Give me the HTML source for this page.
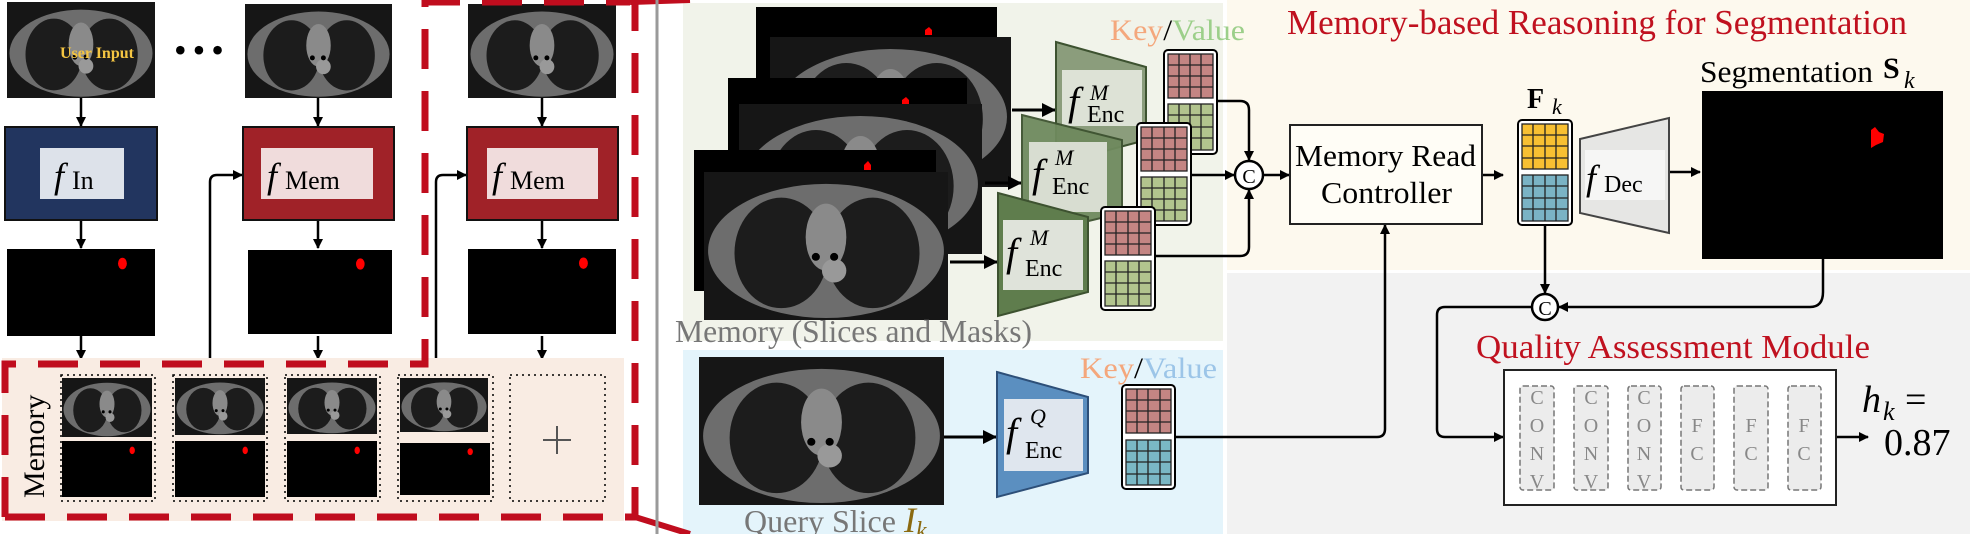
<!DOCTYPE html>
<html><head><meta charset="utf-8"><style>
html,body{margin:0;padding:0;background:#fff}
svg{display:block}
text{font-family:"Liberation Serif",serif}
</style></head><body>
<svg width="1970" height="534" viewBox="0 0 1970 534" xmlns="http://www.w3.org/2000/svg">
<defs>
<symbol id="ct" viewBox="0 0 240 150" preserveAspectRatio="none">
<rect width="240" height="150" fill="#161616"/>
<ellipse cx="120" cy="80" rx="116" ry="68" fill="#6d6d6d"/>
<ellipse cx="76" cy="82" rx="46" ry="56" fill="#1c1c1c"/>
<ellipse cx="166" cy="82" rx="46" ry="56" fill="#1c1c1c"/>
<ellipse cx="120" cy="66" rx="20" ry="34" fill="#8a8a8a"/>
<ellipse cx="128" cy="100" rx="12" ry="12" fill="#999"/>
<circle cx="110" cy="86" r="4" fill="#000"/><circle cx="128" cy="86" r="4" fill="#000"/>
</symbol>
<symbol id="mask" viewBox="0 0 100 60" preserveAspectRatio="none">
<rect width="100" height="60" fill="#000"/>
<ellipse cx="78" cy="10" rx="3" ry="4" fill="#f00"/>
</symbol>
<marker id="ah" markerWidth="10" markerHeight="10" refX="9" refY="5" orient="auto" markerUnits="userSpaceOnUse"><path d="M0,0L10,5L0,10z" fill="#000"/></marker>
<marker id="ahb" markerWidth="14" markerHeight="14" refX="13" refY="7" orient="auto" markerUnits="userSpaceOnUse"><path d="M0,0L14,7L0,14z" fill="#000"/></marker>
</defs>

<rect x="683" y="3" width="540" height="338" fill="#f1f3ea"/>
<rect x="683" y="350" width="540" height="184" fill="#e4f4fb"/>
<rect x="1227" y="0" width="743" height="270" fill="#fdf9ee"/>
<rect x="1227" y="273" width="743" height="261" fill="#f2f2f2"/>

<use href="#ct" x="7" y="2" width="148" height="96"/>
<text x="60" y="58" font-size="16" font-weight="bold" fill="#f4c542">User Input</text>
<text x="174" y="62" font-size="36" fill="#000" letter-spacing="6">•••</text>
<use href="#ct" x="245" y="4" width="147" height="94"/>
<use href="#ct" x="468" y="4" width="148" height="94"/>

<g stroke="#000" stroke-width="2.5" fill="none" marker-end="url(#ah)">
<path d="M81 98V126"/><path d="M318 98V126"/><path d="M542 98V126"/>
<path d="M81 220V248"/><path d="M318 220V248"/><path d="M542 220V248"/>
<path d="M81 336V359"/><path d="M318 336V359"/><path d="M542 336V359"/>
<path d="M210 360V182Q210 175 217 175H242"/>
<path d="M436 360V182Q436 175 443 175H466"/>
</g>

<rect x="5" y="127" width="152" height="93" fill="#22355f" stroke="#111" stroke-width="2"/>
<rect x="40" y="148" width="84" height="51" fill="#dde2ea"/>
<text x="54" y="188" font-size="36" font-style="italic">f</text><text x="72" y="189" font-size="26">In</text>
<rect x="243" y="127" width="151" height="93" fill="#a02228" stroke="#111" stroke-width="2"/>
<rect x="261" y="148" width="112" height="51" fill="#f0dcdc"/>
<text x="267" y="188" font-size="36" font-style="italic">f</text><text x="285" y="189" font-size="26">Mem</text>
<rect x="467" y="127" width="151" height="93" fill="#a02228" stroke="#111" stroke-width="2"/>
<rect x="487" y="148" width="111" height="51" fill="#f0dcdc"/>
<text x="492" y="188" font-size="36" font-style="italic">f</text><text x="510" y="189" font-size="26">Mem</text>

<use href="#mask" x="7" y="249" width="148" height="87"/>
<use href="#mask" x="248" y="250" width="144" height="84"/>
<use href="#mask" x="468" y="249" width="148" height="85"/>

<rect x="2" y="358" width="622" height="163" fill="#f9ece3"/>
<text transform="translate(44,498) rotate(-90)" font-size="30">Memory</text>
<g stroke="#000" stroke-width="1.5" stroke-dasharray="2 4" fill="none">
<rect x="61" y="375" width="94" height="126"/><rect x="173" y="375" width="94" height="126"/>
<rect x="285" y="375" width="95" height="126"/><rect x="398" y="375" width="95" height="126"/>
<rect x="510" y="375" width="95" height="126"/>
</g>
<use href="#ct" x="62" y="378" width="90" height="59"/><use href="#mask" x="62" y="441" width="90" height="56"/>
<use href="#ct" x="175" y="378" width="90" height="57"/><use href="#mask" x="175" y="441" width="90" height="56"/>
<use href="#ct" x="287" y="378" width="90" height="56"/><use href="#mask" x="287" y="441" width="90" height="56"/>
<use href="#ct" x="400" y="378" width="88" height="54"/><use href="#mask" x="400" y="443" width="90" height="52"/>
<path d="M557 426V454M543 440H571" stroke="#555" stroke-width="2"/>

<g stroke="#c00d1e" stroke-width="7" fill="none" stroke-dasharray="40 22">
<path d="M5 517V364H425V2H630"/>
<path d="M5 517H635V2"/>
</g>
<path d="M630 2L690 0M635 517L690 534" stroke="#c00d1e" stroke-width="6"/>
<path d="M657 0V534" stroke="#9a9a9a" stroke-width="3"/>

<rect x="756" y="7" width="241" height="120" fill="#000"/>
<use href="#ct" x="770" y="37" width="241" height="150"/>
<rect x="728" y="78" width="239" height="120" fill="#000"/>
<use href="#ct" x="739" y="104" width="243" height="150"/>
<rect x="694" y="150" width="242" height="141" fill="#000"/>
<use href="#ct" x="704" y="172" width="244" height="148"/>
<path d="M925 30l4 -3 3 3v5h-7zM902 100l4 -3 3 3v4h-7zM864 165l4 -4 3 4v5h-7z" fill="#f00"/>
<text x="675" y="342" font-size="32" fill="#777" textLength="357" lengthAdjust="spacingAndGlyphs">Memory (Slices and Masks)</text>

<g stroke="#000" stroke-width="3" fill="none" marker-end="url(#ahb)">
<path d="M1012 110H1055"/><path d="M985 183H1021"/><path d="M950 262H997"/>
<path d="M944 437H996"/>
</g>
<path d="M1056 42L1146 67V140L1056 164Z" fill="#8b9d7c" stroke="#3d5230" stroke-width="2"/>
<rect x="1062" y="70" width="80" height="56" fill="#dde2d6"/>
<text x="1068" y="115" font-size="40" font-style="italic">f</text><text x="1090" y="100" font-size="22" font-style="italic">M</text><text x="1087" y="122" font-size="24">Enc</text>
<path d="M1022 115L1122 140V213L1022 237Z" fill="#6f8a5e" stroke="#3d5230" stroke-width="2" opacity="0.95"/>
<rect x="1029" y="142" width="78" height="70" fill="#d8ddd1"/>
<text x="1032" y="187" font-size="40" font-style="italic">f</text><text x="1055" y="165" font-size="22" font-style="italic">M</text><text x="1052" y="194" font-size="24">Enc</text>
<path d="M998 193L1088 217V292L998 316Z" fill="#5f7d4d" stroke="#3d5230" stroke-width="2"/>
<rect x="1003" y="220" width="80" height="70" fill="#dfe3da"/>
<text x="1006" y="266" font-size="40" font-style="italic">f</text><text x="1030" y="245" font-size="22" font-style="italic">M</text><text x="1025" y="276" font-size="24">Enc</text>
<text x="1110" y="40" font-size="30" textLength="135" lengthAdjust="spacingAndGlyphs"><tspan fill="#f4a77c">Key</tspan><tspan fill="#000">/</tspan><tspan fill="#9ccf8a">Value</tspan></text>

<rect x="1164" y="50" width="53" height="104" rx="4" fill="#fff" stroke="#000" stroke-width="2"/>
<rect x="1168" y="54" width="45" height="44" fill="#c48583"/>
<rect x="1168" y="104" width="45" height="46" fill="#b2c48e"/>
<g stroke="#222" stroke-width="1.3" fill="none">
<path d="M1179 54V98M1190 54V98M1201 54V98M1168 65H1213M1168 76H1213M1168 87H1213"/>
<path d="M1179 104V150M1190 104V150M1201 104V150M1168 115H1213M1168 127H1213M1168 138H1213"/>
<rect x="1168" y="54" width="45" height="44"/><rect x="1168" y="104" width="45" height="46"/>
</g>
<rect x="1137" y="123" width="54" height="102" rx="4" fill="#fff" stroke="#000" stroke-width="2"/>
<rect x="1141" y="127" width="46" height="44" fill="#c48583"/><rect x="1141" y="177" width="46" height="44" fill="#b2c48e"/>
<g stroke="#222" stroke-width="1.3" fill="none">
<path d="M1152 127V171M1164 127V171M1175 127V171M1141 138H1187M1141 149H1187M1141 160H1187"/>
<path d="M1152 177V221M1164 177V221M1175 177V221M1141 188H1187M1141 199H1187M1141 210H1187"/>
<rect x="1141" y="127" width="46" height="44"/><rect x="1141" y="177" width="46" height="44"/>
</g>
<rect x="1101" y="207" width="54" height="103" rx="4" fill="#fff" stroke="#000" stroke-width="2"/>
<rect x="1105" y="211" width="46" height="44" fill="#c48583"/><rect x="1105" y="261" width="46" height="45" fill="#b2c48e"/>
<g stroke="#222" stroke-width="1.3" fill="none">
<path d="M1116 211V255M1128 211V255M1139 211V255M1105 222H1151M1105 233H1151M1105 244H1151"/>
<path d="M1116 261V306M1128 261V306M1139 261V306M1105 272H1151M1105 283H1151M1105 294H1151"/>
<rect x="1105" y="211" width="46" height="44"/><rect x="1105" y="261" width="46" height="45"/>
</g>
<g stroke="#000" stroke-width="2.5" fill="none" marker-end="url(#ah)">
<path d="M1218 101H1240Q1249 101 1249 110V160"/>
<path d="M1191 175H1234"/>
<path d="M1155 256H1240Q1249 256 1249 247V190"/>
<path d="M1263 175H1289"/>
<path d="M1482 175H1503"/>
<path d="M1669 172H1700"/>
<path d="M1545 225V293"/>
<path d="M1823 259V292Q1823 307 1810 307H1559"/>
<path d="M1532 307H1445Q1437 307 1437 315V429Q1437 437 1445 437H1503"/>
<path d="M1175 437H1377Q1385 437 1385 429V225"/>
<path d="M1836 437H1868"/>
</g>
<circle cx="1249" cy="175" r="14" fill="#fff" stroke="#000" stroke-width="2.5"/>
<text x="1249" y="183" font-size="20" text-anchor="middle">C</text>

<use href="#ct" x="699" y="357" width="245" height="148"/>
<text x="744" y="532" font-size="32" fill="#777">Query Slice <tspan font-style="italic" fill="#8b6a10" font-size="36">I</tspan><tspan font-style="italic" fill="#8b6a10" font-size="24" dy="6">k</tspan></text>
<path d="M997 372L1088 397V473L997 497Z" fill="#5b8fc0" stroke="#2d4f78" stroke-width="2"/>
<rect x="1004" y="399" width="79" height="72" fill="#dfe6ee"/>
<text x="1006" y="446" font-size="40" font-style="italic">f</text><text x="1030" y="424" font-size="22" font-style="italic">Q</text><text x="1025" y="458" font-size="24">Enc</text>
<text x="1080" y="378" font-size="30" textLength="137" lengthAdjust="spacingAndGlyphs"><tspan fill="#f4a77c">Key</tspan><tspan fill="#000">/</tspan><tspan fill="#9cc5e8">Value</tspan></text>
<rect x="1122" y="385" width="53" height="104" rx="4" fill="#fff" stroke="#000" stroke-width="2"/>
<rect x="1126" y="389" width="45" height="44" fill="#c48583"/><rect x="1126" y="440" width="45" height="45" fill="#7ab8c5"/>
<g stroke="#222" stroke-width="1.3" fill="none">
<path d="M1137 389V433M1148 389V433M1160 389V433M1126 400H1171M1126 411H1171M1126 422H1171"/>
<path d="M1137 440V485M1148 440V485M1160 440V485M1126 451H1171M1126 462H1171M1126 474H1171"/>
<rect x="1126" y="389" width="45" height="44"/><rect x="1126" y="440" width="45" height="45"/>
</g>

<text x="1287" y="34" font-size="35" fill="#c0111f" textLength="620" lengthAdjust="spacingAndGlyphs">Memory-based Reasoning for Segmentation</text>
<rect x="1290" y="125" width="192" height="99" fill="#fffdf6" stroke="#222" stroke-width="2"/>
<text x="1295" y="166" font-size="31" textLength="181" lengthAdjust="spacingAndGlyphs">Memory Read</text>
<text x="1321" y="203" font-size="31" textLength="131" lengthAdjust="spacingAndGlyphs">Controller</text>
<text x="1527" y="108" font-size="28" font-weight="bold">F</text><text x="1552" y="114" font-size="22" font-style="italic">k</text>
<rect x="1518" y="120" width="54" height="105" rx="4" fill="#fff" stroke="#000" stroke-width="2"/>
<rect x="1522" y="124" width="46" height="45" fill="#f8c032"/><rect x="1522" y="175" width="46" height="46" fill="#7ab3c5"/>
<g stroke="#222" stroke-width="1.3" fill="none">
<path d="M1533 124V169M1545 124V169M1556 124V169M1522 135H1568M1522 146H1568M1522 158H1568"/>
<path d="M1533 175V221M1545 175V221M1556 175V221M1522 186H1568M1522 198H1568M1522 209H1568"/>
<rect x="1522" y="124" width="46" height="45"/><rect x="1522" y="175" width="46" height="46"/>
</g>
<path d="M1580 139L1669 118V233L1580 213Z" fill="#e6e6e4" stroke="#444" stroke-width="2"/>
<rect x="1585" y="150" width="80" height="50" fill="#f6f6f5"/>
<text x="1586" y="190" font-size="36" font-style="italic">f</text><text x="1604" y="192" font-size="24">Dec</text>
<text x="1700" y="82" font-size="31" textLength="173" lengthAdjust="spacingAndGlyphs">Segmentation</text>
<text x="1883" y="78" font-size="30" font-weight="bold">S</text><text x="1904" y="88" font-style="italic" font-size="24">k</text>
<rect x="1702" y="91" width="241" height="168" fill="#000"/>
<path d="M1871 130l4 -3 4 5 5 2 -1 8 -7 3 -5 3z" fill="#f00"/>
<circle cx="1545" cy="307" r="13" fill="#fff" stroke="#000" stroke-width="2.5"/>
<text x="1545" y="315" font-size="20" text-anchor="middle">C</text>
<text x="1476" y="358" font-size="34" fill="#c0111f" textLength="394" lengthAdjust="spacingAndGlyphs">Quality Assessment Module</text>
<rect x="1504" y="370" width="332" height="135" fill="#fff" stroke="#222" stroke-width="2"/>
<g fill="#ececec" stroke="#777" stroke-width="1.5" stroke-dasharray="6 3">
<rect x="1520" y="386" width="34" height="104" rx="3"/><rect x="1574" y="386" width="34" height="104" rx="3"/>
<rect x="1628" y="386" width="33" height="104" rx="3"/><rect x="1681" y="386" width="33" height="104" rx="3"/>
<rect x="1734" y="386" width="34" height="104" rx="3"/><rect x="1788" y="386" width="33" height="104" rx="3"/>
</g>
<g font-size="20" fill="#888" text-anchor="middle">
<text x="1537" y="404">C</text><text x="1537" y="432">O</text><text x="1537" y="460">N</text><text x="1537" y="488">V</text>
<text x="1591" y="404">C</text><text x="1591" y="432">O</text><text x="1591" y="460">N</text><text x="1591" y="488">V</text>
<text x="1644" y="404">C</text><text x="1644" y="432">O</text><text x="1644" y="460">N</text><text x="1644" y="488">V</text>
<text x="1697" y="432">F</text><text x="1697" y="460">C</text>
<text x="1751" y="432">F</text><text x="1751" y="460">C</text>
<text x="1804" y="432">F</text><text x="1804" y="460">C</text>
</g>
<text x="1862" y="412" font-size="38" font-style="italic">h</text><text x="1883" y="420" font-size="26" font-style="italic">k</text><text x="1905" y="412" font-size="38">=</text>
<text x="1884" y="455" font-size="38">0.87</text>
</svg>
</body></html>
